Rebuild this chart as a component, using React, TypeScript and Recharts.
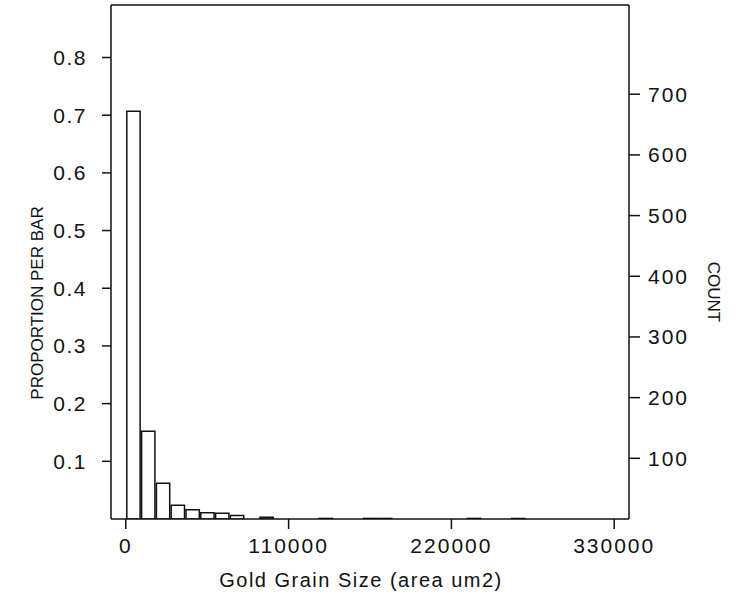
import { Bar, ComposedChart, ReferenceLine, XAxis, YAxis } from "recharts";

const FONT = "'Liberation Sans', Arial, sans-serif";
const INK = "#111";

// bin centres (um2), bin width 10000
const binMids = [
  5000, 15000, 25000, 35000, 45000, 55000, 65000, 75000, 85000, 95000,
  105000, 115000, 125000, 135000, 145000, 155000, 165000, 175000, 185000, 195000,
  205000, 215000, 225000, 235000, 245000, 255000, 265000, 275000, 285000, 295000,
  305000, 315000, 325000, 335000,
];

// proportion of grains per bar
const proportions = [
  0.707, 0.152, 0.062, 0.024, 0.016, 0.011, 0.01, 0.006, 0, 0.003,
  0, 0, 0, 0.001, 0, 0, 0.001, 0.001, 0, 0,
  0, 0, 0, 0.001, 0, 0, 0.001, 0, 0, 0,
  0, 0, 0, 0,
];

const xTicks = [0, 110000, 220000, 330000];
const propTicks = [0.1, 0.2, 0.3, 0.4, 0.5, 0.6, 0.7, 0.8];
const countTicks = [100, 200, 300, 400, 500, 600, 700];
const PROP_MAX = 0.891;

const bins = binMids.map((mid, i) => ({ mid, proportion: proportions[i] }));

const tickStyle = { fill: INK, fontSize: 21, fontFamily: FONT, letterSpacing: 2 };

export default function App() {
  return (
    <div style={{ position: "absolute", left: 0, top: 0, width: 740, height: 611, background: "#fff" }}>
      <ComposedChart width={740} height={611} data={bins} margin={{ top: 5, right: 0, bottom: 0, left: 0 }}>
        <XAxis
          xAxisId="bottom"
          dataKey="mid"
          type="number"
          domain={[-10000, 340000]}
          ticks={xTicks}
          interval={0}
          allowDataOverflow
          height={92}
          tickSize={10}
          tickMargin={9}
          stroke={INK}
          strokeWidth={1.5}
          tick={tickStyle}
        />
        <YAxis
          yAxisId="prop"
          domain={[0, PROP_MAX]}
          ticks={propTicks}
          interval={0}
          allowDataOverflow
          width={111}
          tickSize={9}
          tickMargin={15}
          stroke={INK}
          strokeWidth={1.5}
          tick={{ ...tickStyle, letterSpacing: 1.5 }}
        />
        <YAxis
          yAxisId="count"
          orientation="right"
          domain={[0, 847]}
          ticks={countTicks}
          interval={0}
          allowDataOverflow
          width={111}
          tickSize={11}
          tickMargin={8}
          stroke={INK}
          strokeWidth={1.5}
          tick={tickStyle}
        />
        <ReferenceLine xAxisId="bottom" yAxisId="prop" y={PROP_MAX} stroke={INK} strokeWidth={1.5} />
        <Bar
          xAxisId="bottom"
          yAxisId="prop"
          dataKey="proportion"
          fill="#fff"
          stroke={INK}
          strokeWidth={1.5}
          barSize={14.8}
          isAnimationActive={false}
        />
      </ComposedChart>
      <div
        style={{
          position: "absolute",
          left: 38,
          top: 303,
          transform: "translate(-50%, -50%) rotate(-90deg)",
          whiteSpace: "nowrap",
          fontFamily: FONT,
          fontSize: 17,
          color: INK,
        }}
      >
        PROPORTION PER BAR
      </div>
      <div
        style={{
          position: "absolute",
          left: 713,
          top: 292,
          transform: "translate(-50%, -50%) rotate(90deg)",
          whiteSpace: "nowrap",
          fontFamily: FONT,
          fontSize: 17,
          color: INK,
        }}
      >
        COUNT
      </div>
      <div
        style={{
          position: "absolute",
          left: 361,
          top: 580,
          transform: "translate(-50%, -50%)",
          whiteSpace: "nowrap",
          fontFamily: FONT,
          fontSize: 20,
          letterSpacing: 1.5,
          color: INK,
        }}
      >
        Gold Grain Size (area um2)
      </div>
    </div>
  );
}
